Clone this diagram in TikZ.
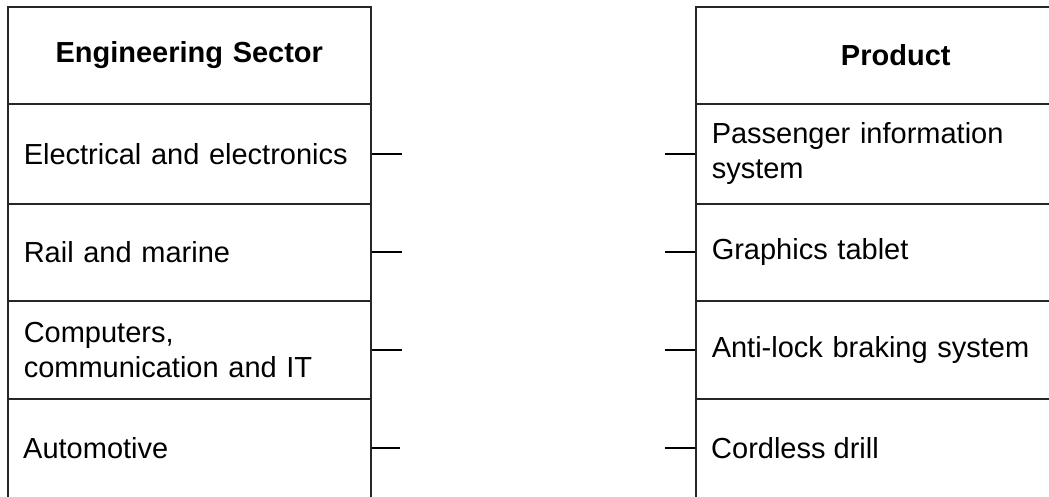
\documentclass[tikz,border=0pt]{standalone}
\usepackage{fontspec}
\setmainfont{Liberation Sans}
\usetikzlibrary{positioning}

\tikzset{
  cell/.style={draw=black!85, line width=1.5pt, rectangle, anchor=north west,
    inner xsep=16pt, inner ysep=0pt, font=\fontsize{29}{35}\selectfont},
  leftcell/.style={cell, text width=331pt, align=left},
  rightcell/.style={cell, text width=368pt, align=left},
  celltext/.style={anchor=west, inner sep=0pt, font=\fontsize{29}{35}\selectfont},
  stub/.style={draw=black, line width=1.6pt}
}

\begin{document}
\begin{tikzpicture}[x=1pt, y=-1pt]
\useasboundingbox (0,0) rectangle (1049,496);
\clip (0,0) rectangle (1049,496);

% Engineering sector column
\node[leftcell, align=center, minimum height=97pt, font=\fontsize{29}{35}\selectfont\bfseries] (lhead) at (7,6) {Engineering Sector};
\node[leftcell, minimum height=100pt] (l1) at (7,103) {Electrical and electronics};
\node[leftcell, minimum height=97pt] (l2) at (7,203) {Rail and marine};
\node[leftcell, minimum height=98pt] (l3) at (7,300) {Computers,\\communication and IT};
\node[leftcell, minimum height=140pt] (l4) at (7,398) {};
\node[celltext] (l4text) at (23,448) {Automotive};

% Product column
\node[rightcell, align=center, minimum height=97pt, font=\fontsize{29}{35}\selectfont\bfseries] (rhead) at (695,6) {Product};
\node[rightcell, minimum height=100pt] (r1) at (695,103) {Passenger information\\system};
\node[rightcell, minimum height=97pt] (r2) at (695,203) {Graphics tablet};
\node[rightcell, minimum height=98pt] (r3) at (695,300) {Anti-lock braking system};
\node[rightcell, minimum height=140pt] (r4) at (695,398) {};
\node[celltext] (r4text) at (711,448) {Cordless drill};

% Stubs
\coordinate (ls1) at ([xshift=30pt]l1.east);
\coordinate (ls2) at ([xshift=30pt]l2.east);
\coordinate (ls3) at ([xshift=30pt]l3.east);
\coordinate (ls4) at (400,448);
\draw[stub] (l1.east) -- (ls1);
\draw[stub] (l2.east) -- (ls2);
\draw[stub] (l3.east) -- (ls3);
\draw[stub] (l4.east |- l4text.west) -- (ls4);

\coordinate (rs1) at ([xshift=-30pt]r1.west);
\coordinate (rs2) at ([xshift=-30pt]r2.west);
\coordinate (rs3) at ([xshift=-30pt]r3.west);
\coordinate (rs4) at (665,448);
\draw[stub] (r1.west) -- (rs1);
\draw[stub] (r2.west) -- (rs2);
\draw[stub] (r3.west) -- (rs3);
\draw[stub] (r4.west |- r4text.west) -- (rs4);
\end{tikzpicture}
\end{document}
